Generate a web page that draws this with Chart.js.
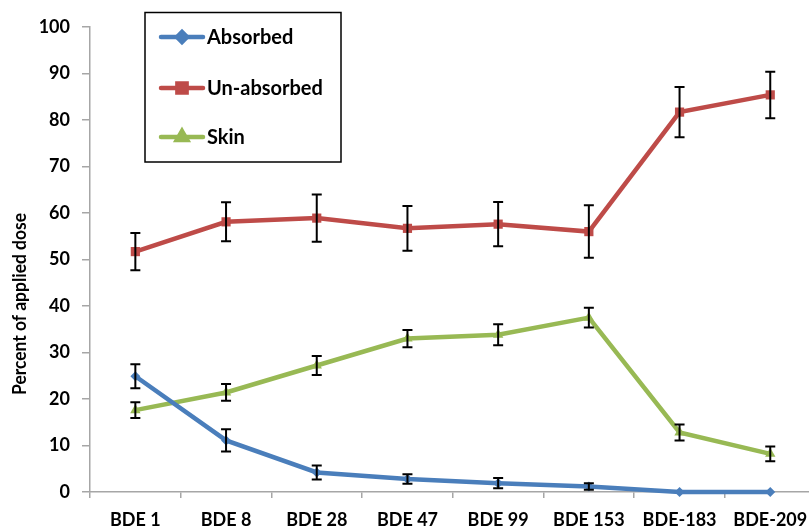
<!DOCTYPE html>
<html><head><meta charset="utf-8">
<script src="https://cdn.jsdelivr.net/npm/chart.js@4.4.1/dist/chart.umd.min.js"></script>
<style>
html,body{margin:0;padding:0;background:#fff;overflow:hidden;}
#wrap{width:809px;height:529px;overflow:hidden;position:relative;background:#fff;}
canvas{display:block;}
</style></head><body>
<div id="wrap"><canvas id="c" width="830" height="529" style="width:830px;height:529px"></canvas></div>
<script>
const categories = ['BDE 1','BDE 8','BDE 28','BDE 47','BDE 99','BDE 153','BDE-183','BDE-209'];
const seriesNames = ['Absorbed','Un-absorbed','Skin'];
const absorbed    = [24.9, 11.1, 4.2, 2.8, 1.9, 1.2, 0.0, 0.0];
const absorbedErr = [2.6, 2.4, 1.5, 1.0, 1.1, 0.7, 0, 0];
const unabsorbed    = [51.7, 58.1, 58.9, 56.7, 57.6, 56.0, 81.7, 85.4];
const unabsorbedErr = [4.0, 4.2, 5.1, 4.8, 4.75, 5.65, 5.4, 5.0];
const skin    = [17.6, 21.4, 27.2, 33.0, 33.8, 37.5, 12.8, 8.2];
const skinErr = [1.7, 1.8, 2.05, 1.85, 2.25, 2.1, 1.7, 1.6];
const yTickValues = [0,10,20,30,40,50,60,70,80,90,100];
const yTitle = 'Percent of applied dose';

const FONT = 'Lato, "Open Sans", sans-serif';
const colors = ['#4A7EBB', '#BE4B48', '#98B954'];
const styles = ['rectRot', 'rect', 'triangle'];
const radii = [5, 6.5, 6];
const errs = [absorbedErr, unabsorbedErr, skinErr];

const errorBars = {
  id: 'errorBars',
  afterDatasetsDraw(chart) {
    const ctx = chart.ctx, y = chart.scales.y, x = chart.scales.x;
    ctx.save();
    ctx.strokeStyle = '#000';
    ctx.lineWidth = 2;
    chart.data.datasets.forEach((ds, i) => {
      const e = errs[i];
      ds.data.forEach((v, j) => {
        if (!e[j]) return;
        const px = x.getPixelForValue(j);
        const top = y.getPixelForValue(v + e[j]);
        const bot = y.getPixelForValue(v - e[j]);
        ctx.beginPath();
        ctx.moveTo(px, top); ctx.lineTo(px, bot);
        ctx.moveTo(px - 5, top); ctx.lineTo(px + 5, top);
        ctx.moveTo(px - 5, bot); ctx.lineTo(px + 5, bot);
        ctx.stroke();
      });
    });
    ctx.restore();
  }
};

const customText = {
  id: 'customText',
  afterDraw(chart) {
    const ctx = chart.ctx;
    ctx.save();
    // y-axis title
    ctx.translate(20, 304);
    ctx.rotate(-Math.PI / 2);
    ctx.font = 'bold 19.5px ' + FONT;
    const w = ctx.measureText(yTitle).width;
    ctx.scale(182 / w, 1);
    ctx.fillStyle = '#000';
    ctx.textAlign = 'center';
    ctx.textBaseline = 'middle';
    ctx.fillText(yTitle, 0, 0);
    ctx.restore();

    // legend box
    ctx.save();
    ctx.strokeStyle = '#000';
    ctx.lineWidth = 1.5;
    ctx.strokeRect(145, 12.5, 196, 149.5);
    const rows = [37, 88, 137];
    chart.data.datasets.forEach((ds, i) => {
      const yy = rows[i];
      ctx.strokeStyle = colors[i];
      ctx.lineWidth = 4.5;
      ctx.lineCap = 'round';
      ctx.beginPath(); ctx.moveTo(161, yy); ctx.lineTo(203, yy); ctx.stroke();
      Chart.helpers.drawPoint(ctx, {pointStyle: styles[i], radius: radii[i], borderWidth: 1, rotation: 0}, 182, yy);
      ctx.fillStyle = colors[i];
      ctx.fill();
      ctx.fillStyle = '#000';
      ctx.font = 'bold 20px ' + FONT;
      ctx.textAlign = 'left';
      ctx.textBaseline = 'middle';
      ctx.fillText(ds.label, 207, yy + 1);
    });
    ctx.restore();
  }
};

const mk = (i, data) => ({
  label: seriesNames[i],
  data: data,
  borderColor: colors[i],
  backgroundColor: colors[i],
  borderWidth: 4.5,
  pointStyle: styles[i],
  pointRadius: radii[i],
  pointBorderWidth: 0,
  pointBackgroundColor: colors[i],
  tension: 0,
  clip: false
});

new Chart(document.getElementById('c'), {
  type: 'line',
  data: {
    labels: categories,
    datasets: [mk(0, absorbed), mk(1, unabsorbed), mk(2, skin)]
  },
  options: {
    responsive: false,
    animation: false,
    layout: { padding: { left: 0, right: 14.4, top: 27, bottom: 0 } },
    plugins: { legend: { display: false }, tooltip: { enabled: false } },
    scales: {
      x: {
        type: 'category',
        offset: true,
        grid: { offset: true, drawOnChartArea: false, drawTicks: true, tickLength: 6, color: '#A6A6A6', lineWidth: 1.5 },
        border: { display: true, color: '#A6A6A6', width: 1.5 },
        ticks: { color: '#000', font: { family: FONT, size: 18, weight: 'bold' }, padding: 11, maxRotation: 0, autoSkip: false },
        afterFit(s) { s.height = 37; }
      },
      y: {
        min: 0, max: 100,
        afterBuildTicks(s) { s.ticks = yTickValues.map(v => ({ value: v })); },
        grid: { drawOnChartArea: false, drawTicks: true, tickLength: 8, color: '#A6A6A6', lineWidth: 1.5 },
        border: { display: true, color: '#A6A6A6', width: 1.5 },
        ticks: { color: '#000', font: { family: FONT, size: 18, weight: 'bold' }, padding: 12 },
        afterFit(s) { s.width = 90; }
      }
    }
  },
  plugins: [errorBars, customText]
});
</script>
</body></html>
